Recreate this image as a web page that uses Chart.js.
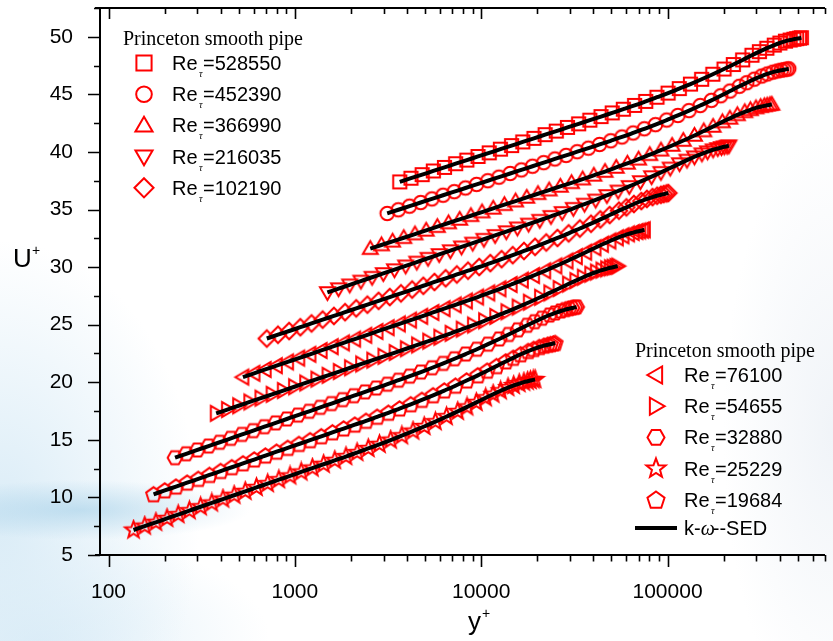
<!DOCTYPE html>
<html>
<head>
<meta charset="utf-8">
<title>Princeton smooth pipe - U+ vs y+</title>
<script src="https://cdn.jsdelivr.net/npm/chart.js@4.4.1/dist/chart.umd.min.js"></script>
<style>
    html, body { margin: 0; padding: 0; }
    body {
        width: 833px; height: 641px; overflow: hidden;
        background:
            radial-gradient(ellipse 170px 30px at 80px 510px, rgba(150, 200, 228, 0.5), rgba(150, 200, 228, 0)),
            radial-gradient(ellipse 200px 280px at 0px 520px, rgba(214, 234, 246, 0.9), rgba(214, 234, 246, 0)),
            radial-gradient(ellipse 230px 110px at 40px 641px, rgba(218, 236, 247, 0.85), rgba(218, 236, 247, 0)),
            radial-gradient(ellipse 110px 300px at 833px 430px, rgba(234, 239, 245, 0.7), rgba(234, 239, 245, 0)),
            #ffffff;
    }
    canvas { display: block; }
</style>
</head>
<body>
<canvas id="pipeChart" width="833" height="641"></canvas>
<script>
// Re_tau of every profile, top curve first
const reTau = [528550, 452390, 366990, 216035, 102190, 76100, 54655, 32880, 25229, 19684];

// probe positions y/R (y+ = y/R * Re_tau)
const yOverR = [0.006918, 0.007943, 0.00912, 0.01047, 0.01202, 0.0138, 0.01585, 0.0182, 0.02089, 0.02399,
    0.02754, 0.03162, 0.03631, 0.04169, 0.04786, 0.05495, 0.0631, 0.07244, 0.08318, 0.0955,
    0.1096, 0.1259, 0.1445, 0.166, 0.1905, 0.2188, 0.2512, 0.2884, 0.3311, 0.3802,
    0.4266, 0.4786, 0.537, 0.5888, 0.6457, 0.7079, 0.7586, 0.8128, 0.861, 0.9016,
    0.9333, 0.9661, 0.9886];

// U+ (curves are shifted vertically in the figure)
const u528550 = [37.40, 37.72, 38.03, 38.35, 38.66, 38.98, 39.29, 39.61, 39.92, 40.24, 40.55, 40.87, 41.18, 41.50, 41.81, 42.13, 42.44, 42.76, 43.07, 43.39, 43.71, 44.04, 44.39, 44.75, 45.11, 45.50, 45.89, 46.31, 46.75, 47.20, 47.59, 47.99, 48.40, 48.71, 49.01, 49.28, 49.46, 49.62, 49.72, 49.79, 49.84, 49.88, 49.92];
const u452390 = [34.66, 34.98, 35.29, 35.61, 35.92, 36.24, 36.55, 36.87, 37.18, 37.50, 37.81, 38.13, 38.44, 38.76, 39.07, 39.39, 39.70, 40.02, 40.33, 40.65, 40.97, 41.30, 41.65, 42.01, 42.37, 42.77, 43.17, 43.59, 44.03, 44.48, 44.88, 45.29, 45.70, 46.01, 46.32, 46.59, 46.77, 46.93, 47.03, 47.10, 47.14, 47.19, 47.22];
const u366990 = [31.60, 31.92, 32.24, 32.55, 32.87, 33.19, 33.51, 33.83, 34.14, 34.46, 34.78, 35.10, 35.42, 35.73, 36.05, 36.37, 36.69, 37.01, 37.32, 37.64, 37.97, 38.30, 38.65, 39.01, 39.37, 39.76, 40.15, 40.56, 40.99, 41.43, 41.82, 42.21, 42.61, 42.92, 43.22, 43.48, 43.66, 43.82, 43.93, 44.00, 44.05, 44.10, 44.13];
const u216035 = [27.80, 28.13, 28.46, 28.79, 29.12, 29.45, 29.78, 30.11, 30.44, 30.77, 31.10, 31.43, 31.76, 32.09, 32.42, 32.75, 33.08, 33.41, 33.74, 34.07, 34.41, 34.75, 35.11, 35.47, 35.83, 36.22, 36.61, 37.01, 37.43, 37.86, 38.23, 38.61, 38.99, 39.29, 39.58, 39.84, 40.02, 40.19, 40.30, 40.39, 40.45, 40.50, 40.54];
const u102190 = [23.80, 24.13, 24.45, 24.78, 25.11, 25.44, 25.76, 26.09, 26.42, 26.74, 27.07, 27.40, 27.72, 28.05, 28.38, 28.71, 29.03, 29.36, 29.69, 30.01, 30.35, 30.69, 31.04, 31.40, 31.76, 32.14, 32.53, 32.93, 33.35, 33.77, 34.14, 34.52, 34.90, 35.19, 35.48, 35.74, 35.92, 36.08, 36.20, 36.28, 36.34, 36.40, 36.43];
const u76100 = [20.45, 20.78, 21.11, 21.44, 21.77, 22.10, 22.43, 22.76, 23.09, 23.42, 23.75, 24.08, 24.41, 24.74, 25.07, 25.40, 25.73, 26.06, 26.39, 26.72, 27.06, 27.40, 27.76, 28.12, 28.49, 28.87, 29.27, 29.68, 30.10, 30.53, 30.91, 31.29, 31.68, 31.98, 32.27, 32.54, 32.72, 32.89, 33.00, 33.09, 33.14, 33.20, 33.24];
const u54655 = [17.30, 17.63, 17.96, 18.29, 18.62, 18.95, 19.28, 19.61, 19.94, 20.27, 20.60, 20.93, 21.26, 21.59, 21.92, 22.25, 22.58, 22.91, 23.24, 23.57, 23.91, 24.25, 24.61, 24.97, 25.34, 25.72, 26.12, 26.53, 26.95, 27.38, 27.76, 28.14, 28.53, 28.83, 29.12, 29.39, 29.57, 29.74, 29.85, 29.94, 29.99, 30.05, 30.09];
const u32880 = [13.45, 13.79, 14.12, 14.46, 14.79, 15.13, 15.47, 15.80, 16.14, 16.47, 16.81, 17.15, 17.48, 17.82, 18.15, 18.49, 18.83, 19.16, 19.50, 19.83, 20.18, 20.53, 20.89, 21.26, 21.64, 22.04, 22.45, 22.87, 23.31, 23.76, 24.15, 24.55, 24.95, 25.26, 25.56, 25.84, 26.02, 26.19, 26.31, 26.39, 26.45, 26.50, 26.54];
const u25229 = [10.27, 10.61, 10.94, 11.28, 11.61, 11.95, 12.29, 12.62, 12.96, 13.29, 13.63, 13.97, 14.30, 14.64, 14.97, 15.31, 15.65, 15.98, 16.32, 16.65, 17.00, 17.35, 17.72, 18.09, 18.47, 18.87, 19.28, 19.70, 20.15, 20.60, 21.00, 21.40, 21.81, 22.12, 22.43, 22.71, 22.89, 23.06, 23.18, 23.26, 23.31, 23.37, 23.41];
const u19684 = [7.17, 7.51, 7.84, 8.18, 8.51, 8.85, 9.19, 9.52, 9.86, 10.19, 10.53, 10.87, 11.20, 11.54, 11.87, 12.21, 12.55, 12.88, 13.22, 13.55, 13.90, 14.25, 14.61, 14.98, 15.36, 15.76, 16.16, 16.58, 17.02, 17.47, 17.86, 18.25, 18.65, 18.96, 19.26, 19.54, 19.72, 19.89, 20.01, 20.09, 20.15, 20.21, 20.24];
const uSeries = [u528550, u452390, u366990, u216035, u102190, u76100, u54655, u32880, u25229, u19684];

// marker drawn on the curves
const plotShapes = ['square', 'circle', 'triUp', 'triDown', 'diamond', 'triLeft', 'triRight', 'hexagon', 'pentagon', 'star'];
// the two legend boxes (as printed in the figure)
const legendTitle = 'Princeton smooth pipe';
const legendUpper = [0, 1, 2, 3, 4];
const legendLower = [5, 6, 7, 8, 9];
const legendShapes = ['square', 'circle', 'triUp', 'triDown', 'diamond', 'triLeft', 'triRight', 'hexagon', 'star', 'pentagon'];
const modelLabel = ['k-', 'ω', '--SED'];

const xMajorTicks = [100, 1000, 10000, 100000];
const yMajorTicks = [5, 10, 15, 20, 25, 30, 35, 40, 45, 50];

const RED = '#ff0000';
const shapeSize = { square: 6.6, circle: 6.8, triUp: 8.6, triDown: 8.6, diamond: 8.3, triLeft: 8.6, triRight: 8.6, hexagon: 7.4, pentagon: 7.8, star: 8.8 };

function polygon(ctx, x, y, r, n, startDeg) {
    for (let k = 0; k < n; k++) {
        const a = (startDeg + k * 360 / n) * Math.PI / 180;
        const px = x + r * Math.cos(a), py = y + r * Math.sin(a);
        if (k === 0) ctx.moveTo(px, py); else ctx.lineTo(px, py);
    }
    ctx.closePath();
}

function traceShape(ctx, shape, x, y, scale) {
    const r = shapeSize[shape] * scale;
    ctx.beginPath();
    switch (shape) {
        case 'square': ctx.rect(x - r, y - r, 2 * r, 2 * r); break;
        case 'circle': ctx.arc(x, y, r, 0, Math.PI * 2); break;
        case 'triUp': polygon(ctx, x, y + r * 0.12, r, 3, -90); break;
        case 'triDown': polygon(ctx, x, y - r * 0.12, r, 3, 90); break;
        case 'triLeft': polygon(ctx, x + r * 0.12, y, r, 3, 180); break;
        case 'triRight': polygon(ctx, x - r * 0.12, y, r, 3, 0); break;
        case 'diamond': polygon(ctx, x, y, r, 4, -90); break;
        case 'hexagon': polygon(ctx, x, y, r, 6, 0); break;
        case 'pentagon': polygon(ctx, x, y + r * 0.08, r, 5, -90); break;
        case 'star':
            for (let k = 0; k < 10; k++) {
                const a = (-90 + k * 36) * Math.PI / 180;
                const rr = k % 2 === 0 ? r : r * 0.42;
                const px = x + rr * Math.cos(a), py = y + rr * Math.sin(a);
                if (k === 0) ctx.moveTo(px, py); else ctx.lineTo(px, py);
            }
            ctx.closePath();
            break;
    }
}

// hollow red marker as a small canvas, used as Chart.js pointStyle
function makeMarker(shape) {
    const size = Math.ceil(shapeSize[shape] * 2 + 5);
    const c = document.createElement('canvas');
    c.width = size; c.height = size;
    const g = c.getContext('2d');
    g.strokeStyle = RED;
    g.lineWidth = 2;
    g.lineJoin = 'miter';
    traceShape(g, shape, size / 2, size / 2, 1);
    g.stroke();
    return c;
}

// axes, ticks, axis titles and both legends
const decorPlugin = {
    id: 'pipeDecor',
    afterDraw(chart) {
        const ctx = chart.ctx;
        const area = chart.chartArea;
        const xs = chart.scales.x, ys = chart.scales.y;
        ctx.save();
        ctx.strokeStyle = '#000';
        ctx.lineWidth = 2;
        ctx.beginPath();
        ctx.moveTo(area.left, area.top); ctx.lineTo(area.left, area.bottom);
        ctx.moveTo(area.left - 5, area.bottom); ctx.lineTo(area.right, area.bottom);
        ctx.moveTo(area.left - 5, area.top); ctx.lineTo(area.right, area.top);
        ctx.stroke();

        // x ticks: outward at the bottom, inward at the top
        ctx.lineWidth = 1.6;
        ctx.beginPath();
        for (let dec = 100; dec <= 1e6; dec *= 10) {
            for (let m = 1; m <= 9; m++) {
                const v = dec * m;
                if (v < xs.min || v > xs.max) continue;
                const px = Math.round(xs.getPixelForValue(v)) + 0.5;
                const len = m === 1 ? 12 : 6.5;
                ctx.moveTo(px, area.bottom); ctx.lineTo(px, area.bottom + len);
                ctx.moveTo(px, area.top); ctx.lineTo(px, area.top + (m === 1 ? 11 : 6));
            }
        }
        // y ticks, outward on the left
        for (let v = 5; v <= 52.5; v += 2.5) {
            const py = Math.round(ys.getPixelForValue(v)) + 0.5;
            const len = v % 5 === 0 ? 12 : 6;
            ctx.moveTo(area.left, py); ctx.lineTo(area.left - len, py);
        }
        ctx.stroke();

        // axis titles
        ctx.fillStyle = '#000';
        ctx.textBaseline = 'alphabetic';
        ctx.textAlign = 'left';
        ctx.font = '26px "Liberation Sans", Arial, sans-serif';
        ctx.fillText('U', 13, 267);
        ctx.fillText('y', 468, 630);
        ctx.font = '14px "Liberation Sans", Arial, sans-serif';
        ctx.fillText('+', 32, 255);
        ctx.fillText('+', 482, 618);

        drawLegend(ctx, 123, 45, legendUpper, false);
        drawLegend(ctx, 635, 357, legendLower, true);
        ctx.restore();
    }
};

function drawLegend(ctx, x0, titleBase, items, withModel) {
    ctx.fillStyle = '#000';
    ctx.textAlign = 'left';
    ctx.textBaseline = 'alphabetic';
    ctx.font = '20px "Liberation Serif", "Times New Roman", serif';
    ctx.fillText(legendTitle, x0, titleBase);
    items.forEach((k, j) => {
        const cy = titleBase + 18 + j * 31.2;
        ctx.strokeStyle = RED;
        ctx.lineWidth = 2;
        traceShape(ctx, legendShapes[k], x0 + 21, cy, 1.15);
        ctx.stroke();
        ctx.fillStyle = '#000';
        ctx.font = '20px "Liberation Sans", Arial, sans-serif';
        ctx.fillText('Re', x0 + 49, cy + 7);
        ctx.fillText('=' + reTau[k], x0 + 80, cy + 7);
        ctx.font = 'italic 10px "Liberation Serif", serif';
        ctx.fillText('τ', x0 + 76, cy + 14);
    });
    if (withModel) {
        const cy = titleBase + 18 + items.length * 31.2 - 3;
        ctx.strokeStyle = '#000';
        ctx.lineWidth = 4;
        ctx.beginPath();
        ctx.moveTo(x0, cy); ctx.lineTo(x0 + 42, cy);
        ctx.stroke();
        ctx.font = '20px "Liberation Sans", Arial, sans-serif';
        let tx = x0 + 49;
        ctx.fillText(modelLabel[0], tx, cy + 7);
        tx += ctx.measureText(modelLabel[0]).width;
        ctx.font = 'italic 20px "Liberation Serif", serif';
        ctx.fillText(modelLabel[1], tx, cy + 7);
        tx += ctx.measureText(modelLabel[1]).width - 2;
        ctx.font = '20px "Liberation Sans", Arial, sans-serif';
        ctx.fillText(modelLabel[2], tx, cy + 7);
    }
}

function buildDatasets() {
    const markerSets = [];
    const lineSets = [];
    reTau.forEach((re, k) => {
        const pts = yOverR.map((r, i) => ({ x: r * re, y: uSeries[k][i] }));
        markerSets.push({
            label: 'Re_tau=' + re,
            data: pts,
            showLine: false,
            pointStyle: makeMarker(plotShapes[k]),
            pointRadius: 7,
            order: 2
        });
        lineSets.push({
            label: 'k-ω--SED',
            data: pts,
            showLine: true,
            borderColor: '#000',
            borderWidth: 4,
            pointRadius: 0,
            cubicInterpolationMode: 'monotone',
            order: 1
        });
    });
    return markerSets.concat(lineSets);
}

Chart.defaults.font.family = '"Liberation Sans", Arial, sans-serif';
Chart.defaults.color = '#000';

new Chart(document.getElementById('pipeChart'), {
    type: 'scatter',
    data: { datasets: buildDatasets() },
    options: {
        responsive: false,
        devicePixelRatio: 1,
        animation: false,
        layout: { padding: { top: 8, right: 0, left: 0, bottom: 0 } },
        plugins: { legend: { display: false }, tooltip: { enabled: false } },
        scales: {
            x: {
                type: 'logarithmic',
                min: 90,
                max: 700000,
                grid: { display: false },
                border: { display: false },
                ticks: { font: { size: 21 }, padding: 17, maxRotation: 0, autoSkip: false, callback: v => String(v) },
                afterBuildTicks: s => { s.ticks = xMajorTicks.map(v => ({ value: v })); },
                afterFit: s => { s.height = 86; s.paddingLeft = 0; s.paddingRight = 0; }
            },
            y: {
                min: 5,
                max: 52.5,
                grid: { display: false },
                border: { display: false },
                ticks: { font: { size: 21 }, padding: 19 },
                afterBuildTicks: s => { s.ticks = yMajorTicks.map(v => ({ value: v })); },
                afterFit: s => { s.width = 100; s.paddingTop = 0; s.paddingBottom = 0; }
            }
        }
    },
    plugins: [decorPlugin]
});
</script>
</body>
</html>
